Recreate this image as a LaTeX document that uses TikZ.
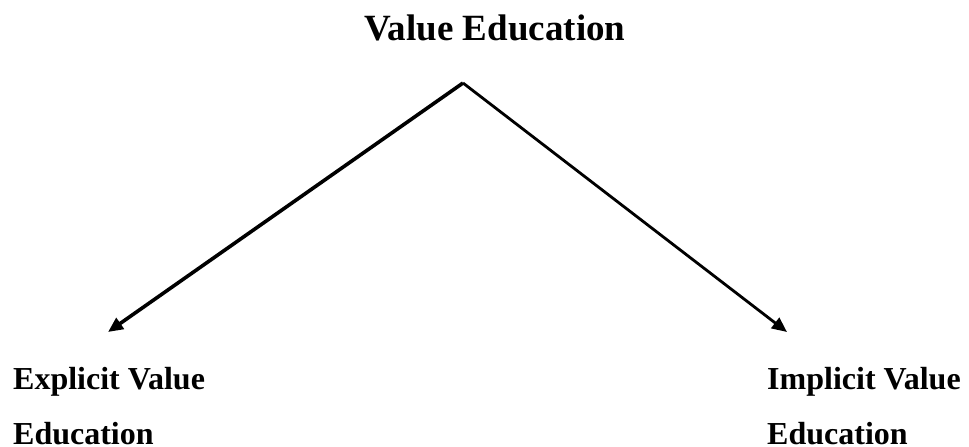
\documentclass[tikz,border=0pt]{standalone}
\usepackage{fontspec}
\setmainfont{Liberation Serif}
\usetikzlibrary{arrows.meta,positioning}
\tikzset{
  title/.style={inner sep=0pt,font=\fontsize{37}{44}\selectfont\bfseries},
  branch/.style={inner sep=0pt,font=\fontsize{32}{40}\selectfont\bfseries},
  arr/.style={-{Triangle[length=15pt,width=13pt]},line width=3pt,draw=black},
}
\begin{document}
\begin{tikzpicture}[x=1pt,y=-1pt]
  \useasboundingbox (0,0) rectangle (969,447);
  \node[title,anchor=base] (top) at (495,40) {Value Education};

  \coordinate (apex) at (463,83);
  \coordinate (lefttip) at (108,332);
  \coordinate (righttip) at (787,332);
  \draw[arr,line width=3.6pt] (apex) -- (lefttip);
  \draw[arr,line width=2.8pt] (apex) -- (righttip);

  \node[branch,anchor=base west] (explicit) at (13,389) {Explicit Value};
  \node[branch,anchor=base west] (explicitedu) at (13,444) {Education};
  \node[branch,anchor=base west] (implicit) at (767,389) {Implicit Value};
  \node[branch,anchor=base west] (implicitedu) at (767,444) {Education};
\end{tikzpicture}
\end{document}
